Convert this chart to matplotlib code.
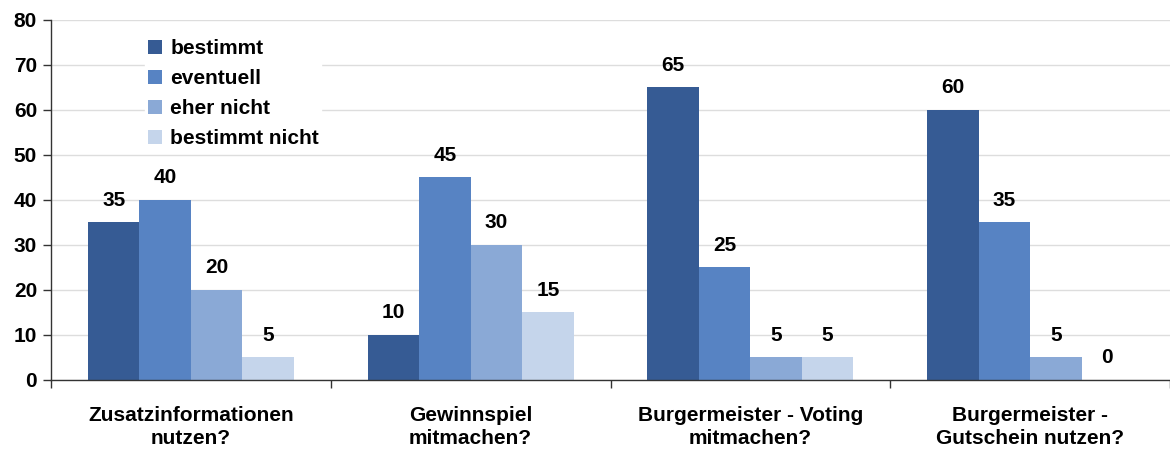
import matplotlib
matplotlib.use("Agg")
import matplotlib.pyplot as plt
import numpy as np

plt.rcParams['font.family'] = ['Liberation Sans', 'DejaVu Sans']
plt.rcParams['font.weight'] = 'bold'

categories = ["Zusatzinformationen\nnutzen?", "Gewinnspiel\nmitmachen?",
              "Burgermeister - Voting\nmitmachen?", "Burgermeister -\nGutschein nutzen?"]
series_names = ["bestimmt", "eventuell", "eher nicht", "bestimmt nicht"]
bestimmt = [35, 10, 65, 60]
eventuell = [40, 45, 25, 35]
eher_nicht = [20, 30, 5, 5]
bestimmt_nicht = [5, 15, 5, 0]
y_ticks = [0, 10, 20, 30, 40, 50, 60, 70, 80]

series = [bestimmt, eventuell, eher_nicht, bestimmt_nicht]
colors = ["#365b94", "#5783c3", "#8aa9d6", "#c5d5eb"]
FS = 15

fig = plt.figure(figsize=(11.7, 4.5), dpi=100)
ax = fig.add_axes([0.0436, 0.1556, 0.9564, 0.80])

n = len(categories)
x = np.arange(n)
bw = 0.184
handles = []
for i, (vals, col, name) in enumerate(zip(series, colors, series_names)):
    pos = x + (i - 1.5) * bw
    b = ax.bar(pos, vals, width=bw, color=col, label=name, zorder=2)
    handles.append(b)
    for px, v in zip(pos, vals):
        ax.text(px, v + 4.9, str(v), ha='center', va='center',
                fontsize=FS, fontweight='bold', zorder=3)

ax.set_xlim(-0.5, n - 0.5)
ax.set_ylim(0, 80)
ax.set_yticks(y_ticks)
ax.tick_params(axis='y', labelsize=FS, length=6, width=1, color='#333333', pad=4)
ax.grid(axis='y', color='#dddddd', linewidth=1, zorder=0)
ax.set_axisbelow(True)

# group separators as x ticks, category labels as minor ticks
ax.set_xticks(np.arange(-0.5, n, 1.0))
ax.set_xticklabels([])
ax.set_xticks(x, minor=True)
ax.set_xticklabels(categories, minor=True, fontsize=FS, fontweight='bold',
                   linespacing=1.25)
ax.tick_params(axis='x', which='major', length=6, width=1, color='#333333')
ax.tick_params(axis='x', which='minor', length=0, pad=19)

for s in ['top', 'right']:
    ax.spines[s].set_visible(False)
for s in ['left', 'bottom']:
    ax.spines[s].set_color('#333333')
    ax.spines[s].set_linewidth(1)

leg = ax.legend(handles=handles, loc='upper left', bbox_to_anchor=(0.075, 0.983),
                frameon=True, fancybox=False, edgecolor='white', facecolor='white',
                framealpha=1, fontsize=FS, handlelength=0.67, handleheight=0.67,
                handletextpad=0.4, labelspacing=0.53, borderpad=0.12)
for t in leg.get_texts():
    t.set_fontweight('bold')

fig.savefig("out.png", dpi=100)
